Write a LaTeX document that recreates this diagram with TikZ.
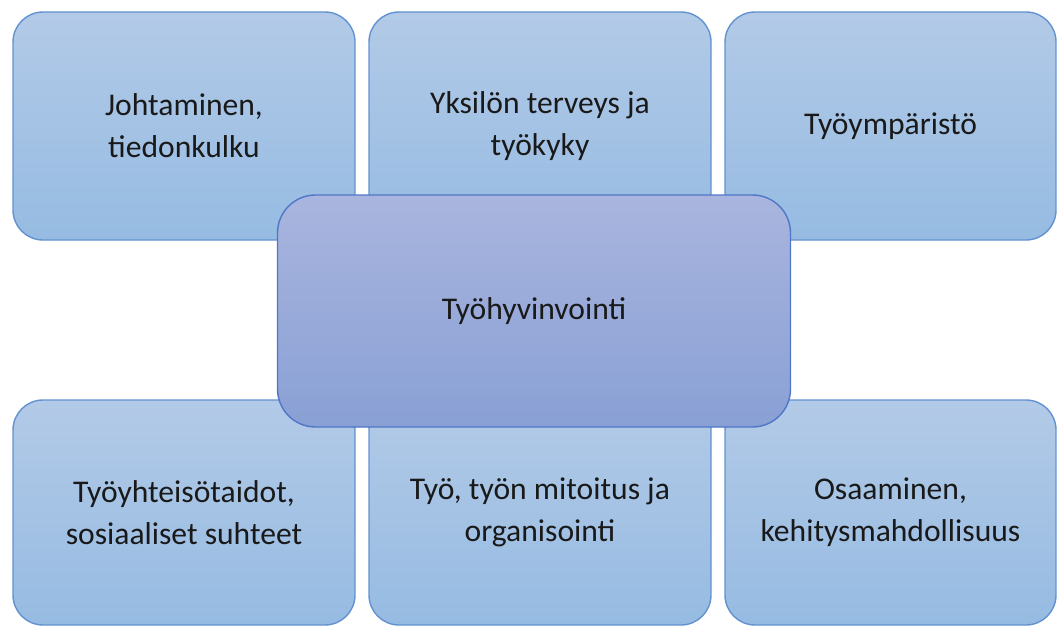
\documentclass[tikz,border=0pt]{standalone}
\usepackage{fontspec}
\setmainfont{Carlito}
\begin{document}
\begin{tikzpicture}[x=1pt,y=-1pt,
  outerbox/.style={draw=outerline, line width=1.4pt, rounded corners=30pt,
    top color=outertop, bottom color=outerbot, minimum width=342pt, minimum height=228pt,
    inner sep=0pt, align=center, text=textcol, font=\fontsize{31.6}{42}\selectfont},
  centerbox/.style={draw=centerline, line width=1.4pt, rounded corners=38pt,
    top color=centertop, bottom color=centerbot, minimum width=513pt, minimum height=232pt,
    inner sep=0pt, align=center, text=textcol, font=\fontsize{31.6}{42}\selectfont}]
\definecolor{outertop}{RGB}{178,202,231}
\definecolor{outerbot}{RGB}{150,187,226}
\definecolor{outerline}{RGB}{98,146,208}
\definecolor{centertop}{RGB}{169,181,222}
\definecolor{centerbot}{RGB}{137,160,213}
\definecolor{centerline}{RGB}{80,118,200}
\definecolor{textcol}{RGB}{25,25,25}
\path[use as bounding box] (0,0) rectangle (1057,626);
\node[outerbox] (tl) at (184,126) {Johtaminen,\\tiedonkulku};
\node[outerbox] (tm) at (540,126) {Yksilön terveys ja\\työkyky};
\node[outerbox, minimum width=331pt] (tr) at (890.5,126) {Työympäristö};
\node[outerbox, minimum height=225pt] (bl) at (184,512.5) {Työyhteisötaidot,\\sosiaaliset suhteet};
\node[outerbox, minimum height=225pt] (bm) at (540,512.5) {Työ, työn mitoitus ja\\organisointi};
\node[outerbox, minimum height=225pt, minimum width=331pt] (br) at (890.5,512.5) {Osaaminen,\\kehitysmahdollisuus};
\node[centerbox] (c) at (534,311) {Työhyvinvointi};
\end{tikzpicture}
\end{document}
